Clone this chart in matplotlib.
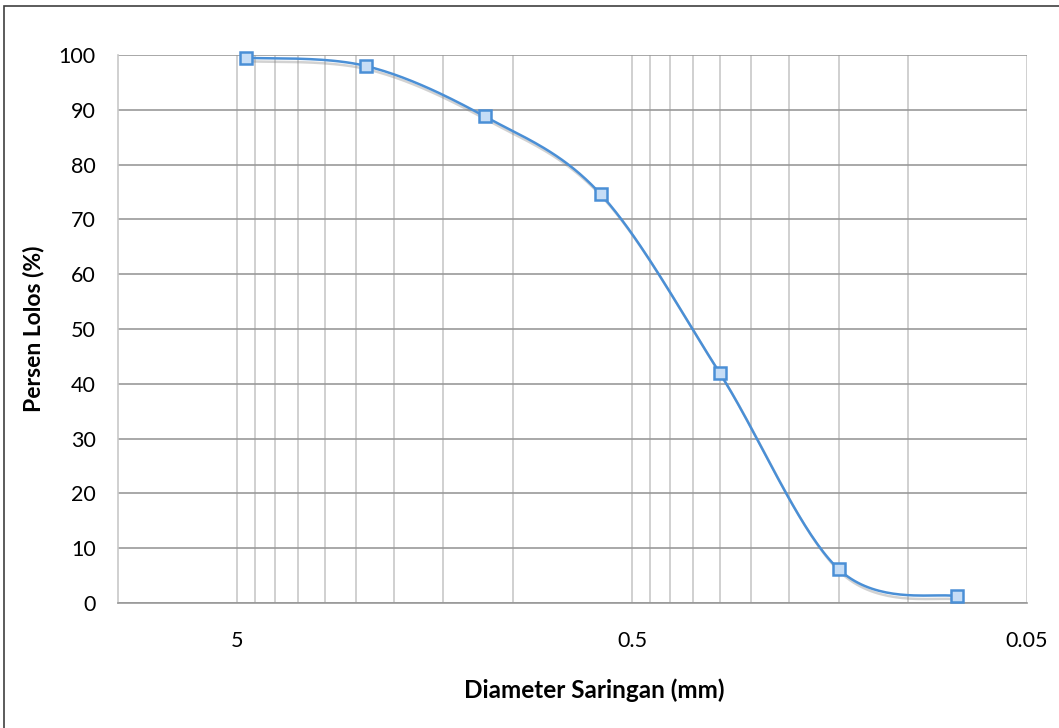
import numpy as np
import matplotlib.pyplot as plt
import matplotlib.patheffects as pe
from matplotlib.patches import Rectangle

# data ukuran saringan vs persen lolos
diameter = [4.75, 2.36, 1.18, 0.6, 0.3, 0.15, 0.075]
persen_lolos = [99.5, 98.0, 88.8, 74.6, 42.0, 6.2, 1.2]
tick_vals = [5, 0.5, 0.05]
tick_labels = ['5', '0.5', '0.05']

plt.rcParams['font.family'] = ['Lato', 'DejaVu Sans']

fig = plt.figure(figsize=(10.59, 7.28), dpi=100)
ax = fig.add_axes([118 / 1059, 1 - 603 / 728, (1027 - 118) / 1059, (603 - 55) / 728])

# bingkai luar grafik
fig.patches.append(Rectangle((4 / 1059, -0.05), 1.1, 1 - 6 / 728 + 0.05,
                             transform=fig.transFigure, fill=False,
                             edgecolor='#404040', linewidth=1.2))

ax.set_xscale('log')
ax.set_xlim(10, 0.05)
ax.set_ylim(0, 100)

# garis bantu minor (kelipatan 0.05 / 0.5)
minor = list(np.arange(0.1, 0.5, 0.05)) + list(np.arange(1, 5, 0.5))
ax.set_xticks(tick_vals)
ax.set_xticklabels(tick_labels)
ax.set_xticks(minor, minor=True)
ax.xaxis.set_minor_formatter(plt.NullFormatter())
ax.set_yticks(np.arange(0, 101, 10))
ax.grid(True, axis='x', which='both', color='#c8c8c8', linewidth=1.2)
ax.grid(True, axis='y', which='major', color='#999999', linewidth=1.2)
ax.tick_params(axis='both', which='both', length=0, labelsize=15.5, colors='black')
ax.tick_params(axis='x', pad=20)
ax.tick_params(axis='y', pad=16)
ax.set_axisbelow(True)
for s in ['top', 'right']:
    ax.spines[s].set_visible(False)
ax.spines['left'].set_color('#c8c8c8')
ax.spines['bottom'].set_color('#999999')
ax.spines['left'].set_linewidth(1.2)
ax.spines['bottom'].set_linewidth(1.2)

# kurva halus (catmull-rom di ruang log)
u = np.log10(diameter) * 395.0
v = np.array(persen_lolos) * 5.48
P = np.column_stack([u, v])
P = np.vstack([P[0], P, P[-1]])
cu, cv = [], []
t = np.linspace(0, 1, 40)
for i in range(1, len(P) - 2):
    p0, p1, p2, p3 = P[i - 1], P[i], P[i + 1], P[i + 2]
    c1 = p1 + (p2 - p0) / 6
    c2 = p2 - (p3 - p1) / 6
    for tt in t:
        b = ((1 - tt) ** 3 * p1 + 3 * (1 - tt) ** 2 * tt * c1
             + 3 * (1 - tt) * tt ** 2 * c2 + tt ** 3 * p2)
        cu.append(b[0])
        cv.append(b[1])
xs = 10 ** (np.array(cu) / 395.0)
ys = np.array(cv) / 5.48

shadow = [pe.SimpleLineShadow(offset=(1.5, -2.5), shadow_color='gray', alpha=0.35),
          pe.Normal()]
ax.plot(xs, ys, color='#4a8fd6', linewidth=1.8, path_effects=shadow, clip_on=False)
ax.plot(diameter, persen_lolos, linestyle='none', marker='s', markersize=8.5,
        markerfacecolor='#c6ddf6', markeredgecolor='#4a8fd6', markeredgewidth=1.8,
        clip_on=False, zorder=5)

ax.set_xlabel('Diameter Saringan (mm)', fontsize=17.5, fontweight='bold')
ax.xaxis.set_label_coords((594 - 118) / 909, -(678 - 603) / 548)
ax.set_ylabel('Persen Lolos (%)', fontsize=16.5, fontweight='bold', labelpad=10)

fig.savefig('out.png', dpi=100)
